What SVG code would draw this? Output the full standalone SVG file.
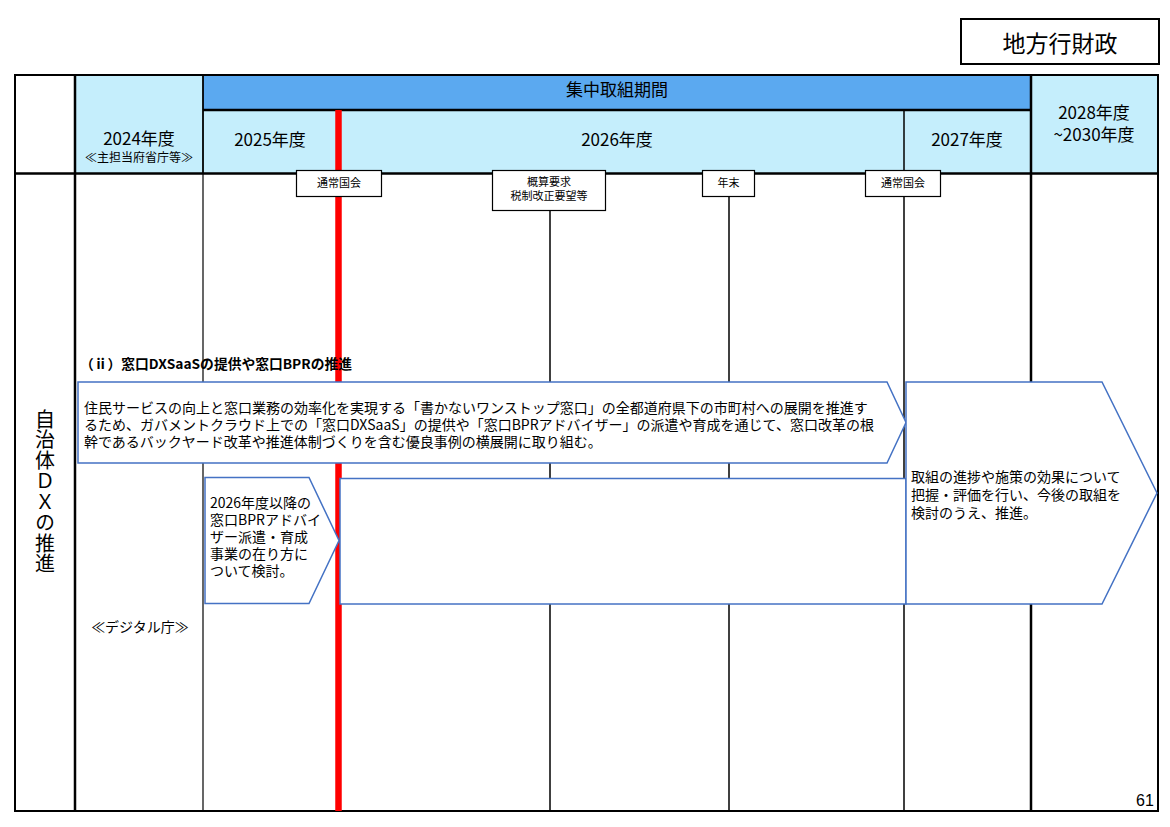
<svg xmlns="http://www.w3.org/2000/svg" width="1170" height="827" viewBox="0 0 1170 827">
<style>
text{font-family:"Noto Sans CJK JP","Liberation Sans",sans-serif;fill:#000}
.hd{font-size:17px;text-anchor:middle}
.ms{font-size:11px;text-anchor:middle}
.body{font-size:14px}
.grid{stroke:#000;fill:none}
.shape{fill:#fff;stroke:#4472C4;stroke-width:1.5}
.mbox{fill:#fff;stroke:#000;stroke-width:1.2}
.tl{stroke:#000;stroke-width:1.5}
</style>
<rect width="1170" height="827" fill="#fff"/>
<g id="title">
<rect x="961" y="19" width="198" height="45" fill="#fff" stroke="#000" stroke-width="2"/>
<text x="1060" y="52" font-size="23" text-anchor="middle">地方行財政</text>
</g>
<g id="header">
<rect x="75" y="75" width="128" height="98" fill="#C5EEFC"/>
<rect x="203" y="75" width="828" height="35" fill="#5BA9F0"/>
<rect x="203" y="110" width="828" height="63" fill="#C5EEFC"/>
<rect x="1031" y="75" width="127" height="98" fill="#C5EEFC"/>
<text class="hd" x="617" y="96" font-size="16">集中取組期間</text>
<text class="hd" x="139" y="145" font-size="18.5">2024年度</text>
<text x="139" y="162" font-size="12" text-anchor="middle">≪主担当府省庁等≫</text>
<text class="hd" x="270" y="146" font-size="18.5">2025年度</text>
<text class="hd" x="617" y="146" font-size="18.5">2026年度</text>
<text class="hd" x="967" y="146" font-size="18.5">2027年度</text>
<text class="hd" x="1094" y="119" font-size="18.5"><tspan x="1094">2028年度</tspan><tspan x="1094" dy="22">~2030年度</tspan></text>
</g>
<g id="grid" class="grid">
<rect x="15" y="75" width="1143" height="736" stroke-width="2"/>
<line x1="75" y1="75" x2="75" y2="811" stroke-width="2.5"/>
<line x1="1031" y1="75" x2="1031" y2="811" stroke-width="2.5"/>
<line x1="203" y1="75" x2="203" y2="173" stroke-width="1.8"/>
<line x1="203" y1="173" x2="203" y2="811" stroke-width="1.2"/>
<line x1="203" y1="110" x2="1031" y2="110" stroke-width="2.5"/>
<line x1="15" y1="173.5" x2="1158" y2="173.5" stroke-width="2.5"/>
</g>
<g id="row-label">
<text x="45" y="409" font-size="20" writing-mode="vertical-rl" letter-spacing="0.7">自治体ＤＸの推進</text>
<text x="140" y="632" font-size="14" text-anchor="middle">≪デジタル庁≫</text>
</g>
<g id="connectors">
<line x1="338.5" y1="110" x2="338.5" y2="811" stroke="#FF0000" stroke-width="6.5"/>
<line class="tl" x1="550" y1="210" x2="550" y2="811"/>
<line class="tl" x1="729" y1="196" x2="729" y2="811"/>
<line class="tl" x1="904" y1="110" x2="904" y2="811"/>
</g>
<g id="milestone-1">
<rect class="mbox" x="296.5" y="170.5" width="85" height="26"/>
<text class="ms" x="339" y="187">通常国会</text>
</g>
<g id="milestone-2">
<rect class="mbox" x="492.5" y="170.5" width="113" height="40"/>
<text class="ms" x="549" y="186"><tspan x="549">概算要求</tspan><tspan x="549" dy="14">税制改正要望等</tspan></text>
</g>
<g id="milestone-3">
<rect class="mbox" x="702.5" y="170.5" width="52" height="26"/>
<text class="ms" x="728.5" y="187">年末</text>
</g>
<g id="milestone-4">
<rect class="mbox" x="865.5" y="170.5" width="75" height="26"/>
<text class="ms" x="903" y="187">通常国会</text>
</g>
<g id="section-title">
<text x="80" y="369" font-size="13.5" font-weight="bold" textLength="272" lengthAdjust="spacingAndGlyphs">（ⅱ）窓口DXSaaSの提供や窓口BPRの推進</text>
</g>
<g id="arrow-main">
<polygon class="shape" points="78,382 887,382 906,422.5 887,463 78,463"/>
<text class="body" x="84" y="413"><tspan x="84">住民サービスの向上と窓口業務の効率化を実現する「書かないワンストップ窓口」の全都道府県下の市町村への展開を推進す</tspan><tspan x="84" dy="17">るため、ガバメントクラウド上での「窓口DXSaaS」の提供や「窓口BPRアドバイザー」の派遣や育成を通じて、窓口改革の根</tspan><tspan x="84" dy="17">幹であるバックヤード改革や推進体制づくりを含む優良事例の横展開に取り組む。</tspan></text>
</g>
<g id="arrow-study">
<polygon class="shape" points="205,477.5 309,477.5 339,540.5 309,603.5 205,603.5"/>
<text class="body" x="210" y="508"><tspan x="210">2026年度以降の</tspan><tspan x="210" dy="17">窓口BPRアドバイ</tspan><tspan x="210" dy="17">ザー派遣・育成</tspan><tspan x="210" dy="17">事業の在り方に</tspan><tspan x="210" dy="17">ついて検討。</tspan></text>
</g>
<g id="bar-2026">
<rect class="shape" x="340" y="478.5" width="566" height="125.5"/>
</g>
<g id="arrow-final">
<polygon class="shape" points="906,382 1102,382 1157,493 1102,604 906,604"/>
<text class="body" x="911" y="482"><tspan x="911">取組の進捗や施策の効果について</tspan><tspan x="911" dy="18">把握・評価を行い、今後の取組を</tspan><tspan x="911" dy="18">検討のうえ、推進。</tspan></text>
</g>
<text x="1145" y="806" font-size="16" text-anchor="middle" fill="#333" style="font-family:'Liberation Sans',sans-serif">61</text>
</svg>
